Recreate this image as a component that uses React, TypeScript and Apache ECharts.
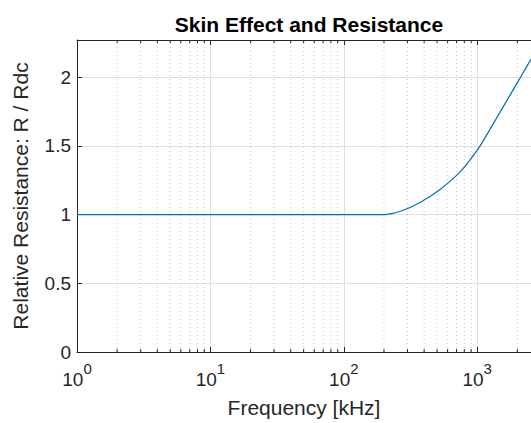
import React, { useEffect, useRef } from "react";
import * as echarts from "echarts";

// Frequency (kHz) and relative resistance R/Rdc
const freqKHz = [1, 10, 100, 150, 200, 272, 373, 526, 743, 1019, 1247, 1483, 2094, 2530];
const resistanceRatio = [1, 1, 1, 1, 1.0, 1.028, 1.088, 1.182, 1.31, 1.48, 1.62, 1.745, 1.993, 2.13];

// Axis ranges and ticks
const xRange = [1, 2530];
const yRange = [0, 2.27];
const yTickStep = 0.5;
const xDecadeExponents = [0, 1, 2, 3];
const xMinorTicks = [2, 3, 4, 5, 6, 7, 8, 9, 20, 30, 40, 50, 60, 70, 80, 90, 200, 300, 400, 500, 600, 700, 800, 900, 2000];

const FONT = "'Liberation Sans', Arial, Helvetica, sans-serif";
const INK = "#262626";
const GRID = "#dfdfdf";
const MINOR_GRID = "#c8c8c8";

export default function App() {
  const ref = useRef<HTMLDivElement>(null);

  useEffect(() => {
    if (!ref.current) return;
    const chart = echarts.init(ref.current, undefined, { renderer: "svg" });

    const xLabel = (v: number) => {
      const e = Math.round(Math.log10(v));
      if (!xDecadeExponents.includes(e)) return "";
      if (Math.abs(Math.pow(10, e) - v) > 1e-6 * v) return "";
      return `{b|10}{s|${e}}`;
    };
    const yLabel = (v: number) => {
      const k = v / yTickStep;
      if (Math.abs(k - Math.round(k)) > 1e-9) return "";
      return String(v);
    };

    const option: any = {
      animation: false,
      textStyle: { fontFamily: FONT },
      title: {
        text: "Skin Effect and Resistance",
        left: 304,
        textAlign: "center",
        top: 9,
        textStyle: { fontFamily: FONT, fontSize: 21, fontWeight: "bold", color: "#000" },
      },
      grid: { left: 77, right: 0, top: 40, bottom: 69, containLabel: false },
      xAxis: [
        {
          type: "log",
          logBase: 10,
          min: xRange[0],
          max: xRange[1],
          position: "bottom",
          name: "Frequency [kHz]",
          nameLocation: "middle",
          nameGap: 45,
          nameTextStyle: { fontFamily: FONT, fontSize: 21, color: INK },
          axisLine: { show: true, lineStyle: { color: INK, width: 1 } },
          axisTick: { show: true, inside: true, length: 5, lineStyle: { color: INK } },
          axisLabel: {
            margin: 9,
            color: INK,
            formatter: xLabel,
            showMaxLabel: false,
            rich: {
              b: { fontFamily: FONT, fontSize: 19, color: INK, lineHeight: 28, verticalAlign: "bottom" },
              s: { fontFamily: FONT, fontSize: 15, color: INK, lineHeight: 15, verticalAlign: "top" },
            },
          },
          splitLine: { show: true, lineStyle: { color: GRID, width: 1 } },
        },
        {
          type: "log",
          logBase: 10,
          min: xRange[0],
          max: xRange[1],
          position: "top",
          axisLine: { show: true, onZero: false, lineStyle: { color: INK, width: 1 } },
          axisTick: { show: true, inside: true, length: 5, lineStyle: { color: INK } },
          axisLabel: { show: false },
          splitLine: { show: false },
        },
      ],
      yAxis: [
        {
          type: "value",
          min: yRange[0],
          max: yRange[1],
          interval: yTickStep,
          name: "Relative Resistance: R / Rdc",
          nameLocation: "middle",
          nameGap: 46,
          nameTextStyle: { fontFamily: FONT, fontSize: 21, color: INK },
          axisLine: { show: true, lineStyle: { color: INK, width: 1 } },
          axisTick: { show: true, inside: true, length: 5, lineStyle: { color: INK } },
          axisLabel: { margin: 6, fontFamily: FONT, fontSize: 19, color: INK, formatter: yLabel, showMaxLabel: false },
          splitLine: { show: true, lineStyle: { color: GRID, width: 1 } },
        },
      ],
      series: [
        {
          type: "custom",
          xAxisIndex: 0,
          yAxisIndex: 0,
          silent: true,
          z: 1,
          data: xMinorTicks.map((v) => [v]),
          renderItem: (params: any, api: any) => {
            const v = api.value(0);
            const b = api.coord([v, yRange[0]]);
            const t = api.coord([v, yRange[1]]);
            return {
              type: "group",
              children: [
                {
                  type: "line",
                  shape: { x1: b[0], y1: b[1], x2: t[0], y2: t[1] },
                  style: { stroke: MINOR_GRID, lineWidth: 1, lineDash: [1, 3] },
                },
                {
                  type: "line",
                  shape: { x1: b[0], y1: b[1], x2: b[0], y2: b[1] - 3 },
                  style: { stroke: INK, lineWidth: 1 },
                },
                {
                  type: "line",
                  shape: { x1: t[0], y1: t[1], x2: t[0], y2: t[1] + 3 },
                  style: { stroke: INK, lineWidth: 1 },
                },
              ],
            };
          },
        },
        {
          type: "line",
          xAxisIndex: 0,
          yAxisIndex: 0,
          z: 5,
          data: freqKHz.map((f, i) => [f, resistanceRatio[i]]),
          showSymbol: false,
          smooth: 0.3,
          lineStyle: { color: "#0072BD", width: 1.2 },
          itemStyle: { color: "#0072BD" },
        },
      ],
    };

    chart.setOption(option);
    return () => chart.dispose();
  }, []);

  return (
    <div
      ref={ref}
      style={{ position: "fixed", left: 0, top: 0, width: 531, height: 423, background: "#fff" }}
    />
  );
}
